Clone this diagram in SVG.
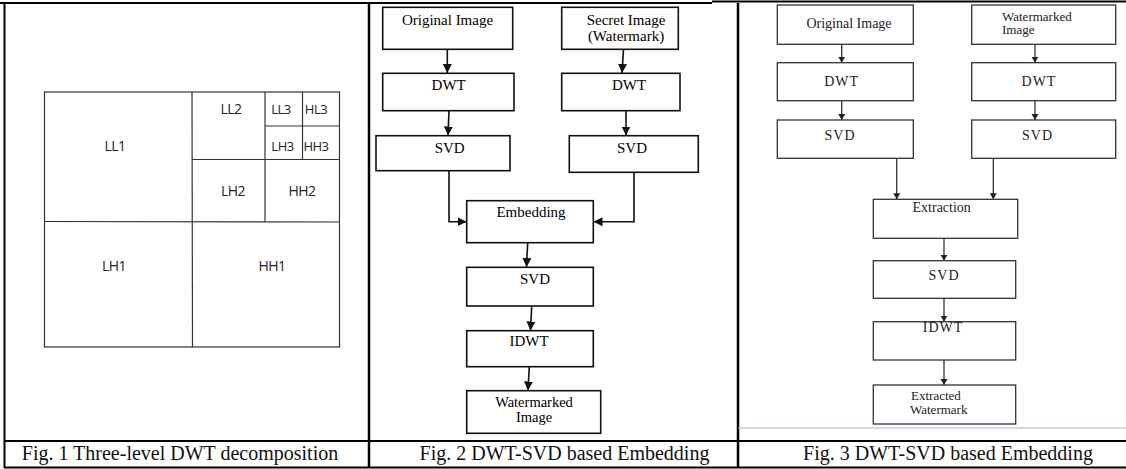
<svg xmlns="http://www.w3.org/2000/svg" width="1126" height="469" viewBox="0 0 1126 469">
<style>
.frame{stroke:#000;stroke-width:2;fill:none}
.div{stroke:#000;stroke-width:2.5;fill:none}
.grid{stroke:#333;stroke-width:1.2;fill:none}
.lbl{font-family:"Open Sans","Liberation Sans",sans-serif;font-size:14px;letter-spacing:-0.5px;fill:#222;text-anchor:middle}
.b2{fill:#fff;stroke:#111;stroke-width:1.6}
.t2{font-family:"Liberation Serif","Times New Roman",serif;font-size:15px;fill:#000;text-anchor:middle}
.b3{fill:#fff;stroke:#333;stroke-width:1.3}
.t3{font-family:"Liberation Serif","Times New Roman",serif;font-size:14px;fill:#222;text-anchor:middle}
.c2{stroke:#111;stroke-width:1.6;fill:none}
.c3{stroke:#333;stroke-width:1.3;fill:none}
.cap{font-family:"Liberation Serif","Times New Roman",serif;font-size:20px;fill:#111;text-anchor:middle}
</style>
<defs>
<marker id="ah2" markerUnits="userSpaceOnUse" markerWidth="10" markerHeight="10" refX="9" refY="5" orient="auto">
<path d="M0,0.5 L9,5 L0,9.5 z" fill="#111"/>
</marker>
<marker id="ah3" markerUnits="userSpaceOnUse" markerWidth="8" markerHeight="8" refX="6" refY="4" orient="auto">
<path d="M0,0.5 L6,4 L0,7.5 z" fill="#222"/>
</marker>
</defs>
<rect width="1126" height="469" fill="#fff"/>

<g id="table">
<line class="frame" x1="0" y1="3" x2="712" y2="3"/>
<line class="frame" x1="712" y1="1.5" x2="1126" y2="1.5"/>
<line class="frame" x1="4.5" y1="3" x2="4.5" y2="468"/>
<line class="div" x1="369" y1="3" x2="369" y2="468"/>
<line class="div" x1="738" y1="3" x2="738" y2="468"/>
<line class="frame" x1="4" y1="441" x2="1126" y2="441"/>
<line class="frame" x1="4" y1="467.5" x2="1126" y2="467.5"/>
<line x1="738" y1="428" x2="1126" y2="428" stroke="#9db8d6" stroke-width="1.2"/>
</g>

<g id="fig1">
<rect class="grid" x="44.5" y="92" width="295" height="255"/>
<line class="grid" x1="192" y1="92" x2="192.5" y2="347"/>
<line class="grid" x1="44.5" y1="221.5" x2="339.5" y2="222"/>
<line class="grid" x1="192" y1="159.5" x2="339.5" y2="159.5"/>
<line class="grid" x1="265" y1="92" x2="265" y2="222"/>
<line class="grid" x1="302.5" y1="92" x2="302.5" y2="159.5"/>
<line class="grid" x1="265" y1="126" x2="339.5" y2="126"/>
<text class="lbl" x="115" y="151">LL1</text>
<text class="lbl" x="231" y="114">LL2</text>
<text class="lbl" x="281" y="114" style="font-size:13px">LL3</text>
<text class="lbl" x="316" y="114" style="font-size:13px">HL3</text>
<text class="lbl" x="282.5" y="151" style="font-size:13px">LH3</text>
<text class="lbl" x="316" y="151" style="font-size:13px">HH3</text>
<text class="lbl" x="233" y="196">LH2</text>
<text class="lbl" x="302" y="196">HH2</text>
<text class="lbl" x="114" y="271">LH1</text>
<text class="lbl" x="272" y="271">HH1</text>
</g>

<g id="fig2-connectors">
<line class="c2" x1="447.3" y1="49.3" x2="447.3" y2="73" marker-end="url(#ah2)"/>
<line class="c2" x1="449" y1="110.7" x2="448" y2="135.5" marker-end="url(#ah2)"/>
<line class="c2" x1="623.5" y1="49.3" x2="622" y2="73" marker-end="url(#ah2)"/>
<line class="c2" x1="626" y1="110.7" x2="626" y2="135.5" marker-end="url(#ah2)"/>
<path class="c2" d="M449,170.7 V221.7 H466.5" marker-end="url(#ah2)"/>
<path class="c2" d="M634,172.3 V221.7 H593.5" marker-end="url(#ah2)"/>
<line class="c2" x1="527.7" y1="242.7" x2="526.5" y2="267" marker-end="url(#ah2)"/>
<line class="c2" x1="531.7" y1="306" x2="530.5" y2="330.5" marker-end="url(#ah2)"/>
<line class="c2" x1="529.3" y1="366.7" x2="528" y2="390.5" marker-end="url(#ah2)"/>
</g>
<g id="f2-orig"><rect class="b2" x="382.7" y="7.3" width="130" height="42"/><text class="t2" x="447.5" y="24.5">Original Image</text></g>
<g id="f2-secret"><rect class="b2" x="561.7" y="7.3" width="116.6" height="42"/><text class="t2" x="626" y="25">Secret Image</text><text class="t2" x="626" y="40.5">(Watermark)</text></g>
<g id="f2-dwt1"><rect class="b2" x="382.7" y="73.3" width="131.3" height="37.4"/><text class="t2" x="448.7" y="89.5">DWT</text></g>
<g id="f2-dwt2"><rect class="b2" x="561.7" y="73.3" width="118.3" height="37.4"/><text class="t2" x="629" y="89.5">DWT</text></g>
<g id="f2-svd1"><rect class="b2" x="376" y="135.7" width="134" height="35"/><text class="t2" x="449.7" y="152.5">SVD</text></g>
<g id="f2-svd2"><rect class="b2" x="569.3" y="135.7" width="129" height="36.6"/><text class="t2" x="632" y="152.5">SVD</text></g>
<g id="f2-embed"><rect class="b2" x="466.7" y="200.7" width="126.6" height="42"/><text class="t2" x="531" y="216.5">Embedding</text></g>
<g id="f2-svd3"><rect class="b2" x="466.7" y="267.3" width="126.6" height="38.7"/><text class="t2" x="535" y="283.5">SVD</text></g>
<g id="f2-idwt"><rect class="b2" x="466.7" y="330.7" width="126.6" height="36"/><text class="t2" x="529" y="345.5">IDWT</text></g>
<g id="f2-wm"><rect class="b2" x="466.7" y="390.7" width="134" height="42.6"/><text class="t2" x="534" y="406.7" style="font-size:14.5px">Watermarked</text><text class="t2" x="534" y="421.7" style="font-size:14.5px">Image</text></g>

<g id="fig3-connectors">
<line class="c3" x1="841.7" y1="44.3" x2="841.7" y2="62.7" marker-end="url(#ah3)"/>
<line class="c3" x1="841.7" y1="100.7" x2="841.7" y2="120" marker-end="url(#ah3)"/>
<line class="c3" x1="1035" y1="44.3" x2="1035" y2="62.7" marker-end="url(#ah3)"/>
<line class="c3" x1="1035" y1="100.7" x2="1035" y2="120" marker-end="url(#ah3)"/>
<line class="c3" x1="896.7" y1="158.3" x2="896.7" y2="199.3" marker-end="url(#ah3)"/>
<line class="c3" x1="993.3" y1="158.3" x2="993.3" y2="199.3" marker-end="url(#ah3)"/>
<line class="c3" x1="944" y1="238.3" x2="944" y2="260.7" marker-end="url(#ah3)"/>
<line class="c3" x1="944" y1="298.3" x2="944" y2="321.7" marker-end="url(#ah3)"/>
<line class="c3" x1="944" y1="360" x2="944" y2="385" marker-end="url(#ah3)"/>
</g>
<g id="f3-orig"><rect class="b3" x="777.3" y="5" width="136" height="39.3"/><text class="t3" x="849" y="27.5">Original Image</text></g>
<g id="f3-wm"><rect class="b3" x="971.7" y="5" width="144" height="39.3"/><text class="t3" x="1002" y="20.5" style="text-anchor:start;font-size:13px">Watermarked</text><text class="t3" x="1002" y="34" style="text-anchor:start;font-size:13px">Image</text></g>
<g id="f3-dwt1"><rect class="b3" x="777.3" y="62.7" width="136" height="38"/><text class="t3" x="841.7" y="86" style="letter-spacing:1px">DWT</text></g>
<g id="f3-dwt2"><rect class="b3" x="971.7" y="62.7" width="144" height="38"/><text class="t3" x="1039" y="86" style="letter-spacing:1px">DWT</text></g>
<g id="f3-svd1"><rect class="b3" x="777.3" y="120" width="136" height="38.3"/><text class="t3" x="840" y="139.5" style="letter-spacing:1px">SVD</text></g>
<g id="f3-svd2"><rect class="b3" x="971.7" y="120" width="144" height="38.3"/><text class="t3" x="1037.5" y="139.5" style="letter-spacing:1px">SVD</text></g>
<g id="f3-extr"><rect class="b3" x="873.3" y="199.3" width="144.4" height="39"/><text class="t3" x="941.7" y="212">Extraction</text></g>
<g id="f3-svd3"><rect class="b3" x="873.3" y="260.7" width="142.4" height="37.6"/><text class="t3" x="944" y="279.5" style="letter-spacing:1px">SVD</text></g>
<g id="f3-idwt"><rect class="b3" x="873.3" y="321.7" width="142.4" height="38.3"/><text class="t3" x="943" y="332" style="letter-spacing:1px">IDWT</text></g>
<g id="f3-ext"><rect class="b3" x="873.3" y="385" width="142.4" height="39"/><text class="t3" x="911" y="400" style="text-anchor:start;font-size:13px">Extracted</text><text class="t3" x="910" y="413.5" style="text-anchor:start;font-size:13px">Watermark</text></g>

<g id="captions">
<text class="cap" x="180" y="460">Fig. 1 Three-level DWT decomposition</text>
<text class="cap" x="564.5" y="460">Fig. 2 DWT-SVD based Embedding</text>
<text class="cap" x="948" y="460">Fig. 3 DWT-SVD based Embedding</text>
</g>
</svg>
